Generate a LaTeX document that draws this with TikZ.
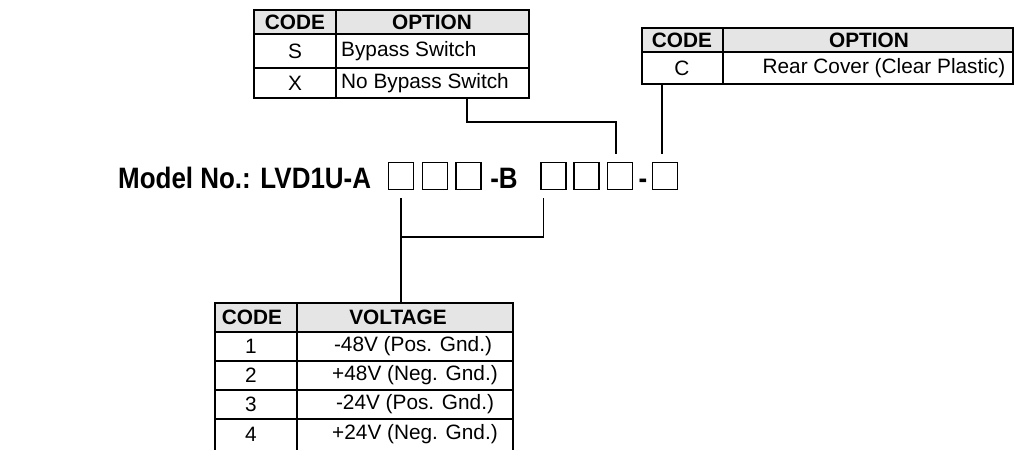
\documentclass[tikz,border=0pt]{standalone}
\usepackage{fontspec}
\setmainfont{Liberation Sans}
\newfontfamily\modelfont[FakeStretch=0.88]{Liberation Sans Bold}
\begin{document}
\begin{tikzpicture}[x=1pt,y=-1pt,
        txt/.style={inner sep=0pt, font=\fontsize{20.8}{21}\selectfont},
        hdr/.style={inner sep=0pt, font=\fontsize{20.8}{21}\selectfont\bfseries},
        big/.style={inner sep=0pt, font=\fontsize{29.5}{30}\modelfont},
        slot/.style={draw, line width=1.2pt, minimum width=25pt, minimum height=27pt, inner sep=0pt},
        grid/.style={line width=1.6pt},
        link/.style={line width=1.8pt}]
        \useasboundingbox (0,0) rectangle (1015,450);

        % option table (bypass switch)
        \draw[grid, fill=black!10] (254,10) rectangle (529,34);
        \draw[grid] (254,34) rectangle (529,98);
        \draw[grid] (254,68) -- (529,68);
        \draw[grid] (336,10) -- (336,98);
        \node[hdr] (codeA) at (295,22) {CODE};
        \node[hdr] (optA) at (432,22) {OPTION};
        \node[txt] (sA) at (295,51) {S};
        \node[txt, anchor=west] (bypA) at (341,51) {Bypass Switch};
        \node[txt] (xA) at (295,83) {X};
        \node[txt, anchor=west] (nobypA) at (341,83) {No Bypass Switch};
        \coordinate (tabA) at (467,98);

        % option table (rear cover)
        \draw[grid, fill=black!10] (642,28) rectangle (1013,52);
        \draw[grid] (642,52) rectangle (1013,84);
        \draw[grid] (723,28) -- (723,84);
        \node[hdr] (codeB) at (682,40) {CODE};
        \node[hdr] (optB) at (869,40) {OPTION};
        \node[txt] (cB) at (682,68) {C};
        \node[txt] (coverB) at (884,68) {Rear Cover (Clear Plastic)};
        \coordinate (tabB) at (662,84);

        % voltage table
        \draw[grid, fill=black!10] (215,303) rectangle (513,332);
        \draw[grid] (215,332) -- (215,450);
        \draw[grid] (513,332) -- (513,450);
        \draw[grid] (297,303) -- (297,450);
        \draw[grid] (215,361) -- (513,361);
        \draw[grid] (215,390) -- (513,390);
        \draw[grid] (215,419) -- (513,419);
        \node[hdr] (codeC) at (252,317.5) {CODE};
        \node[hdr] (voltC) at (398,317.5) {VOLTAGE};
        \node[txt] (c1) at (251,346.5) {1};
        \node[txt] (v1) at (413,346.5) {-48V (Pos. Gnd.)};
        \node[txt] (c2) at (251,375.5) {2};
        \node[txt] (v2) at (415,375.5) {+48V (Neg. Gnd.)};
        \node[txt] (c3) at (251,404.5) {3};
        \node[txt] (v3) at (415,404.5) {-24V (Pos. Gnd.)};
        \node[txt] (c4) at (251,434) {4};
        \node[txt] (v4) at (415,434) {+24V (Neg. Gnd.)};
        \coordinate (tabC) at (401,303);
        \coordinate (busC) at (401,237);

        % model number
        \node[big, anchor=base west] (model) at (118,188) {Model No.: LVD1U-A};
        \node[slot] (b1) at (401,176) {};
        \node[slot] (b2) at (435,176) {};
        \node[slot] (b3) at (468.5,176) {};
        \node[big, anchor=base] (dashB) at (504,188) {-B};
        \node[slot] (b4) at (553.5,176) {};
        \node[slot] (b5) at (586.5,176) {};
        \node[slot] (b6) at (620,176) {};
        \node[big, anchor=base] (dash) at (643,188) {-};
        \node[slot] (b7) at (665,176) {};

        % connectors
        \draw[link] (tabA) -- ++(0,24) -| ([xshift=-4pt,yshift=8pt]b6.north);
        \draw[link] (tabB) -- ([xshift=-3pt,yshift=8pt]b7.north);
        \draw[link] ([yshift=-8pt]b1.south) -- (tabC);
        \draw[link] ([xshift=-10pt,yshift=-8pt]b4.south) |- (busC);
    \end{tikzpicture}
\end{document}
